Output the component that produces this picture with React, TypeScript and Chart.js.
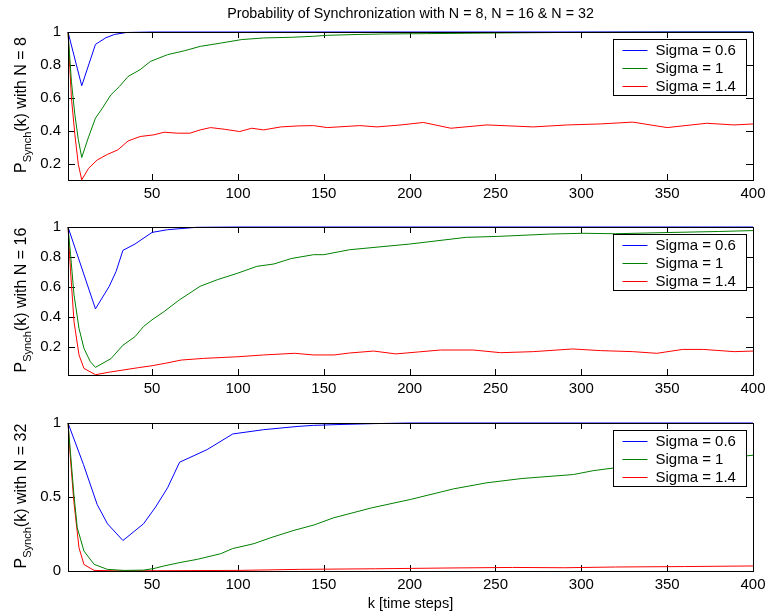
import React, { useEffect, useRef } from "react";
import { Chart, registerables } from "chart.js";

Chart.register(...registerables);

const FONT = '"Liberation Sans", Arial, Helvetica, sans-serif';

// ---------- labels ----------
const chartTitle = "Probability of Synchronization with N = 8, N = 16 & N = 32";
const xAxisLabel = "k [time steps]";
const legendLabels = ["Sigma = 0.6", "Sigma = 1", "Sigma = 1.4"];
const seriesColors = ["#0000ff", "#008000", "#ff0000"];
const panelN = ["8", "16", "32"];

// ---------- ticks ----------
const xTicks = [50, 100, 150, 200, 250, 300, 350, 400];
const xMin = 1;
const xMax = 400;
const yTicksN8 = [0.2, 0.4, 0.6, 0.8, 1];
const yTicksN16 = [0.2, 0.4, 0.6, 0.8, 1];
const yTicksN32 = [0, 0.5, 1];
const yMins = [0.105, 0.011, 0];

// ---------- N = 8 ----------
const n8BlueK = [1, 9, 17, 23, 28, 35, 50, 100, 400];
const n8BlueV = [1, 0.675, 0.925, 0.965, 0.985, 0.997, 1, 1, 1];
const n8GreenK = [1, 3, 5, 7, 9, 13, 17, 21, 26, 31, 36, 43, 49, 59, 69, 78, 90, 102, 115, 131, 144, 152, 170, 185, 210, 249, 275, 301, 330, 360, 400];
const n8GreenV = [1, 0.7, 0.5, 0.35, 0.241, 0.366, 0.479, 0.539, 0.62, 0.671, 0.731, 0.772, 0.822, 0.863, 0.887, 0.913, 0.933, 0.954, 0.964, 0.968, 0.974, 0.98, 0.985, 0.988, 0.99, 0.994, 0.996, 0.998, 0.999, 1, 1];
const n8RedK = [1, 3, 5, 7, 9, 13, 18, 24, 30, 36, 43, 51, 57, 65, 72, 78, 84, 92, 101, 108, 115, 125, 135, 144, 152, 171, 181, 195, 208, 224, 245, 272, 292, 311, 330, 350, 373, 389, 400];
const n8RedV = [1, 0.6, 0.38, 0.2, 0.106, 0.176, 0.226, 0.26, 0.287, 0.341, 0.368, 0.378, 0.394, 0.388, 0.388, 0.408, 0.422, 0.412, 0.398, 0.418, 0.408, 0.426, 0.432, 0.434, 0.422, 0.434, 0.426, 0.438, 0.453, 0.418, 0.438, 0.426, 0.438, 0.444, 0.455, 0.422, 0.448, 0.438, 0.444];

// ---------- N = 16 ----------
const n16BlueK = [1, 17, 25, 29, 33, 40, 50, 59, 76, 100, 400];
const n16BlueV = [1, 0.453, 0.603, 0.703, 0.844, 0.886, 0.964, 0.982, 0.998, 1, 1];
const n16GreenK = [1, 2.5, 4.5, 7.4, 10.3, 14, 17, 26, 33, 40, 45, 50, 57, 66, 78, 88, 100, 111, 121, 131, 144, 150, 165, 200, 233, 251, 282, 301, 320, 350, 380, 400];
const n16GreenV = [1, 0.815, 0.547, 0.323, 0.189, 0.1, 0.062, 0.12, 0.21, 0.267, 0.335, 0.38, 0.435, 0.514, 0.604, 0.648, 0.692, 0.737, 0.753, 0.789, 0.815, 0.815, 0.848, 0.886, 0.931, 0.937, 0.953, 0.958, 0.955, 0.963, 0.97, 0.976];
const n16RedK = [1, 2.5, 4.5, 7.4, 10.3, 17, 25, 33, 42, 50, 58, 67, 80, 100, 115, 133, 144, 156, 165, 179, 192, 205, 218, 237, 253, 272, 295, 311, 330, 344, 359, 371, 389, 400];
const n16RedV = [1, 0.703, 0.368, 0.145, 0.055, 0.013, 0.03, 0.044, 0.06, 0.073, 0.09, 0.111, 0.122, 0.133, 0.145, 0.156, 0.145, 0.145, 0.158, 0.171, 0.152, 0.165, 0.178, 0.178, 0.16, 0.167, 0.185, 0.174, 0.167, 0.156, 0.182, 0.182, 0.167, 0.171];

// ---------- N = 32 ----------
const n32BlueK = [1, 10, 18, 24, 33, 45, 52, 59, 66, 82, 97, 115, 135, 144, 160, 180, 200, 400];
const n32BlueV = [1, 0.72, 0.449, 0.319, 0.206, 0.319, 0.432, 0.562, 0.735, 0.82, 0.926, 0.955, 0.977, 0.984, 0.99, 0.996, 1, 1];
const n32GreenK = [1, 2.5, 4.4, 6.4, 10.3, 16.2, 23.9, 33.6, 45, 51.1, 56.9, 65.7, 76.4, 90, 96.8, 109.4, 119.1, 132.7, 144.3, 155.6, 178, 200.3, 225.6, 245, 265.4, 295.5, 307, 318.8, 340, 370, 400];
const n32GreenV = [1, 0.79, 0.52, 0.292, 0.135, 0.045, 0.011, 0.004, 0.006, 0.017, 0.034, 0.056, 0.079, 0.117, 0.151, 0.185, 0.225, 0.275, 0.311, 0.359, 0.427, 0.483, 0.555, 0.596, 0.625, 0.652, 0.678, 0.696, 0.72, 0.75, 0.782];
const n32RedK = [1, 2.5, 4.4, 7.4, 10.3, 16.2, 30, 50, 100, 136, 180, 220, 260, 290, 320, 360, 400];
const n32RedV = [1, 0.75, 0.47, 0.157, 0.044, 0.004, 0.001, 0.002, 0.004, 0.011, 0.015, 0.02, 0.024, 0.022, 0.027, 0.03, 0.034];

const panels = [
  { n: panelN[0], yMin: yMins[0], yTicks: yTicksN8, ks: [n8BlueK, n8GreenK, n8RedK], vs: [n8BlueV, n8GreenV, n8RedV] },
  { n: panelN[1], yMin: yMins[1], yTicks: yTicksN16, ks: [n16BlueK, n16GreenK, n16RedK], vs: [n16BlueV, n16GreenV, n16RedV] },
  { n: panelN[2], yMin: yMins[2], yTicks: yTicksN32, ks: [n32BlueK, n32GreenK, n32RedK], vs: [n32BlueV, n32GreenV, n32RedV] },
];

// layout (pixels)
const PLOT_LEFT = 68;
const PLOT_RIGHT = 753;
const PLOT_TOPS = [32, 227, 423];
const PLOT_H = 148;
const CANVAS_W = 800;
const PAD_TOP = 22;
const XAXIS_H = 30;

function makeFramePlugin(yTicks: number[]) {
  return {
    id: "matlabFrame",
    beforeDatasetsDraw(chart: any) {
      const { ctx, chartArea, scales } = chart;
      const { left, right, top, bottom } = chartArea;
      ctx.save();
      ctx.strokeStyle = "#000";
      ctx.lineWidth = 1;
      ctx.beginPath();
      xTicks.forEach((v) => {
        const px = Math.round(scales.x.getPixelForValue(v)) + 0.5;
        if (px < right - 1) {
          ctx.moveTo(px, bottom);
          ctx.lineTo(px, bottom - 6);
          ctx.moveTo(px, top);
          ctx.lineTo(px, top + 6);
        }
      });
      yTicks.forEach((v) => {
        const py = Math.round(scales.y.getPixelForValue(v)) + 0.5;
        if (py > top + 1 && py < bottom - 1) {
          ctx.moveTo(left, py);
          ctx.lineTo(left + 7, py);
          ctx.moveTo(right, py);
          ctx.lineTo(right - 7, py);
        }
      });
      ctx.stroke();
      ctx.restore();
    },
    afterDraw(chart: any) {
      const { ctx, chartArea } = chart;
      const { left, right, top, bottom } = chartArea;
      ctx.save();
      ctx.setLineDash([]);
      ctx.globalAlpha = 1;
      ctx.strokeStyle = "#000000";
      ctx.lineWidth = 1;
      ctx.strokeRect(Math.round(left) + 0.5, Math.round(top) + 0.5, Math.round(right - left), Math.round(bottom - top));
      // legend box
      const bw = 133;
      const bh = 56;
      const bx = Math.round(right - 7 - bw) + 0.5;
      const by = Math.round(top + 7) + 0.5;
      ctx.fillStyle = "#ffffff";
      ctx.fillRect(bx, by, bw, bh);
      ctx.strokeStyle = "#000000";
      ctx.strokeRect(bx, by, bw, bh);
      ctx.font = `15px ${FONT}`;
      ctx.textBaseline = "middle";
      ctx.textAlign = "left";
      for (let i = 0; i < legendLabels.length; i++) {
        const cy = Math.round(by + 10.5 + i * 17.8) + 0.5;
        const col = seriesColors[i];
        ctx.beginPath();
        ctx.strokeStyle = col;
        ctx.lineWidth = 1;
        ctx.moveTo(bx + 9, cy);
        ctx.lineTo(bx + 34, cy);
        ctx.stroke();
        ctx.closePath();
        ctx.fillStyle = "#000000";
        ctx.fillText(legendLabels[i], bx + 42, cy + 0.5);
      }
      ctx.restore();
    },
  };
}

function Panel({ index }: { index: number }) {
  const ref = useRef<HTMLCanvasElement | null>(null);
  const p = panels[index];
  useEffect(() => {
    if (!ref.current) return;
    const datasets = p.ks.map((ks, si) => ({
      label: legendLabels[si],
      data: ks.map((k, i) => ({ x: k, y: p.vs[si][i] })),
      borderColor: seriesColors[si],
      backgroundColor: seriesColors[si],
      borderWidth: 1,
      pointRadius: 0,
      tension: 0,
      fill: false,
      clip: 3,
    }));
    const chart = new Chart(ref.current, {
      type: "line",
      data: { datasets },
      plugins: [makeFramePlugin(p.yTicks)],
      options: {
        responsive: false,
        animation: false,
        events: [],
        layout: { padding: { left: 0, top: PAD_TOP, right: CANVAS_W - PLOT_RIGHT, bottom: 0 } },
        plugins: { legend: { display: false }, tooltip: { enabled: false }, title: { display: false } },
        scales: {
          x: {
            type: "linear",
            min: xMin,
            max: xMax,
            grid: { display: false, drawTicks: false },
            border: { display: false },
            ticks: { padding: 5, color: "#000", font: { size: 15, family: FONT }, maxRotation: 0, autoSkip: false },
            afterBuildTicks: (s: any) => {
              s.ticks = xTicks.map((v) => ({ value: v }));
            },
            afterFit: (s: any) => {
              s.height = XAXIS_H;
            },
          },
          y: {
            type: "linear",
            min: p.yMin,
            max: 1,
            grid: { display: false, drawTicks: false },
            border: { display: false },
            ticks: {
              padding: 7,
              color: "#000",
              font: { size: 15, family: FONT },
              callback: (v: any) => String(Number(Number(v).toFixed(2))),
            },
            afterBuildTicks: (s: any) => {
              s.ticks = p.yTicks.map((v) => ({ value: v }));
            },
            afterFit: (s: any) => {
              s.width = PLOT_LEFT;
            },
          },
        },
      } as any,
    });
    return () => chart.destroy();
  }, [index]);
  const top = PLOT_TOPS[index] - PAD_TOP;
  return (
    <canvas
      ref={ref}
      width={CANVAS_W}
      height={PAD_TOP + PLOT_H + XAXIS_H}
      style={{ position: "absolute", left: 0, top, width: CANVAS_W, height: PAD_TOP + PLOT_H + XAXIS_H }}
    />
  );
}

function YLabel({ index }: { index: number }) {
  const cy = PLOT_TOPS[index] + PLOT_H / 2 - 1;
  return (
    <div
      style={{
        position: "absolute",
        left: 21,
        top: cy,
        transform: "translate(-50%, -50%) rotate(-90deg)",
        whiteSpace: "nowrap",
        font: `16px ${FONT}`,
        lineHeight: "18px",
        color: "#000",
      }}
    >
      P<sub style={{ fontSize: "11px", verticalAlign: "-5px", lineHeight: 0 }}>Synch</sub>(k) with N = {panels[index].n}
    </div>
  );
}

export default function App() {
  const cx = (PLOT_LEFT + PLOT_RIGHT) / 2;
  return (
    <div
      style={{
        position: "fixed",
        left: 0,
        top: 0,
        width: 768,
        height: 615,
        overflow: "hidden",
        background: "#fff",
      }}
    >
      {[0, 1, 2].map((i) => (
        <Panel key={"p" + i} index={i} />
      ))}
      {[0, 1, 2].map((i) => (
        <YLabel key={"y" + i} index={i} />
      ))}
      <div
        style={{
          position: "absolute",
          left: cx,
          top: 13,
          transform: "translate(-50%, -50%)",
          whiteSpace: "nowrap",
          font: `14.3px ${FONT}`,
          color: "#000",
        }}
      >
        {chartTitle}
      </div>
      <div
        style={{
          position: "absolute",
          left: cx,
          top: 603,
          transform: "translate(-50%, -50%)",
          whiteSpace: "nowrap",
          font: `14.5px ${FONT}`,
          color: "#000",
        }}
      >
        {xAxisLabel}
      </div>
    </div>
  );
}
